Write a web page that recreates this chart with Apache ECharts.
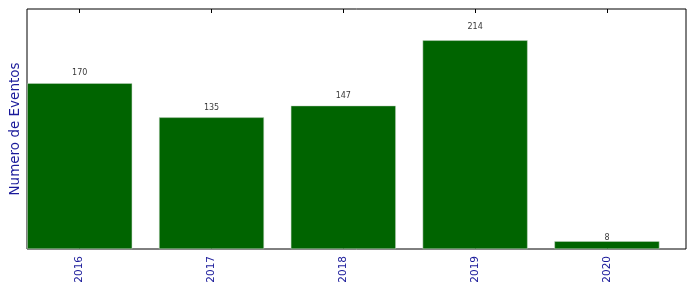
<!DOCTYPE html>
<html><head><meta charset="utf-8">
<script src="https://cdn.jsdelivr.net/npm/echarts@6/dist/echarts.min.js"></script>
<style>html,body{margin:0;padding:0;background:#fff}#c{width:696px;height:292px}</style>
</head><body><div id="c"></div>
<script>
const categories = ['2016', '2017', '2018', '2019', '2020'];
const values = [170, 135, 147, 214, 8];
const yLabel = 'Numero de Eventos';

const chart = echarts.init(document.getElementById('c'), null, {renderer: 'canvas'});
const idx = categories.map((_, i) => i);
const xBase = {
  type: 'value', min: -0.4, max: categories.length - 0.4,
  splitLine: {show: false},
  axisLine: {show: false},
  axisTick: {show: true, inside: true, length: 4, customValues: idx, lineStyle: {color: '#000', width: 1}},
};
const option = {
  animation: false,
  grid: {left: 27, top: 9, width: 659, height: 240, show: true, borderColor: '#000', borderWidth: 1, backgroundColor: 'transparent', containLabel: false, outerBoundsMode: 'none'},
  xAxis: [
    Object.assign({}, xBase, {
      position: 'bottom',
      axisLabel: {show: true, customValues: idx, rotate: 90, margin: 7, color: '#1a1a9a', fontSize: 10.5, fontFamily: 'DejaVu Sans', formatter: v => categories[Math.round(v)]}
    }),
    Object.assign({}, xBase, {position: 'top', axisLabel: {show: false}})
  ],
  yAxis: {
    type: 'value', min: 0, max: 246.1,
    name: yLabel, nameLocation: 'middle', nameGap: 5, nameRotate: 90,
    nameTextStyle: {color: '#1a1a9a', fontSize: 13.5, fontFamily: 'DejaVu Sans'},
    axisLabel: {show: false}, axisTick: {show: false}, axisLine: {show: false}, splitLine: {show: false}
  },
  series: [
    {
      type: 'bar', xAxisIndex: 0, barWidth: 105,
      data: values.map((v, i) => [i, v]),
      itemStyle: {color: '#006400', borderColor: '#c8d8c8', borderWidth: 0.5}
    },
    {
      type: 'scatter', xAxisIndex: 0, symbolSize: 0, silent: true,
      data: values.map((v, i) => [i, v * 1.05, v]),
      label: {show: true, position: 'top', distance: 0, offset: [0, 1.5], color: '#000', fontSize: 8, fontFamily: 'DejaVu Sans', formatter: p => String(p.value[2])}
    }
  ]
};
chart.setOption(option);
</script></body></html>
